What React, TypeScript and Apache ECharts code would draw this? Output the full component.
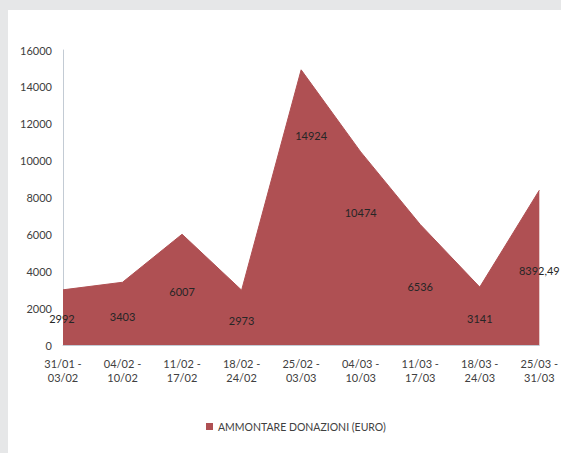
import React, { useEffect, useRef } from "react";
import * as echarts from "echarts";

const categories = [
  "31/01 -\n03/02",
  "04/02 -\n10/02",
  "11/02 -\n17/02",
  "18/02 -\n24/02",
  "25/02 -\n03/03",
  "04/03 -\n10/03",
  "11/03 -\n17/03",
  "18/03 -\n24/03",
  "25/03 -\n31/03",
];
const donations = [2992, 3403, 6007, 2973, 14924, 10474, 6536, 3141, 8392.49];
const seriesName = "AMMONTARE DONAZIONI (EURO)";
// label placement (pixel offsets from each point), as in the reference
const labelDx = [-1, 0, 0, 0, 10, 0, 0, 0, 0];
const labelDy = [29, 34, 57, 30, 66, 61, 62, 31, 80];

const FONT = "Lato";

export default function App() {
  const ref = useRef<HTMLDivElement>(null);
  useEffect(() => {
    document.body.style.margin = "0";
    if (!ref.current) return;
    const chart = echarts.init(ref.current, null, { renderer: "svg" });
    chart.setOption({
      animation: false,
      textStyle: { fontFamily: FONT },
      grid: { left: 55, right: 17, top: 40, bottom: 108, containLabel: false },
      xAxis: {
        type: "category",
        data: categories,
        boundaryGap: false,
        axisLine: { show: true, lineStyle: { color: "#c3cbd4", width: 1 } },
        axisTick: { show: false },
        axisLabel: {
          color: "#404040",
          fontSize: 11,
          fontFamily: FONT,
          lineHeight: 14,
          margin: 11,
          interval: 0,
        },
        splitLine: { show: false },
      },
      yAxis: {
        type: "value",
        min: 0,
        max: 16000,
        interval: 2000,
        axisLine: { show: true, lineStyle: { color: "#c3cbd4", width: 1 } },
        axisTick: { show: false },
        axisLabel: {
          color: "#404040",
          fontSize: 11,
          fontFamily: FONT,
          margin: 11,
          formatter: (v: number) => String(v),
        },
        splitLine: { show: false },
      },
      legend: {
        data: [{ name: seriesName, icon: "rect" }],
        left: 193,
        top: 406,
        itemWidth: 7,
        itemHeight: 7,
        textStyle: { color: "#404040", fontSize: 10.5, fontFamily: FONT },
      },
      series: [
        {
          name: seriesName,
          type: "line",
          data: donations.map((v, i) => ({
            value: v,
            label: { offset: [labelDx[i], labelDy[i]] },
          })),
          symbol: "circle",
          symbolSize: 0.1,
          showSymbol: true,
          itemStyle: { color: "#af5053" },
          lineStyle: { color: "#af5053", width: 1 },
          areaStyle: { color: "#af5053", opacity: 1 },
          label: {
            show: true,
            position: "inside",
            color: "#262626",
            fontSize: 11,
            fontFamily: FONT,
            formatter: (p: any) => String(p.value).replace(".", ","),
          },
        },
      ],
    });
    return () => chart.dispose();
  }, []);
  return (
    <div style={{ position: "relative", width: 561, height: 453, background: "#e6e7e8", overflow: "hidden" }}>
      <div
        style={{ position: "absolute", left: 8, top: 10, width: 553, height: 443, background: "#ffffff" }}
      >
        <div ref={ref} style={{ width: 553, height: 443 }} />
      </div>
    </div>
  );
}
